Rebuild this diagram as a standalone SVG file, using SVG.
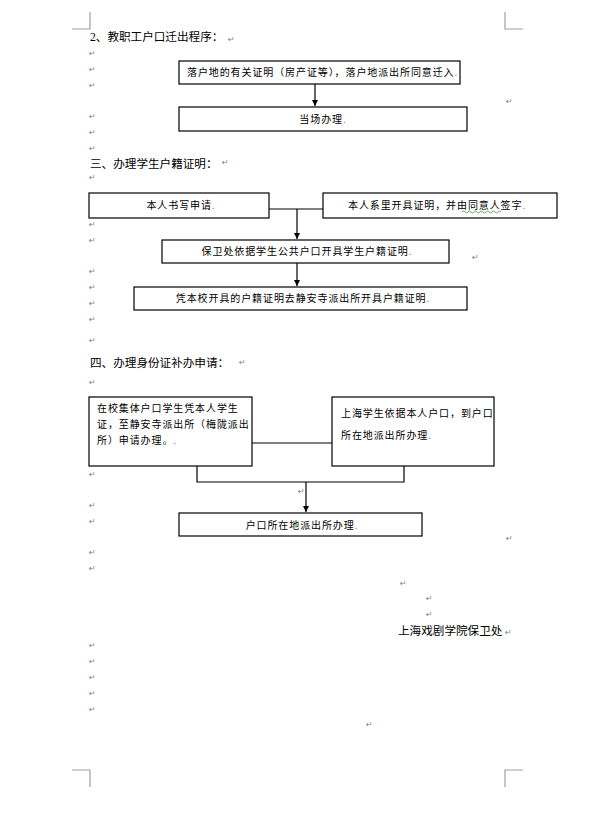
<svg xmlns="http://www.w3.org/2000/svg" width="595" height="820" viewBox="0 0 595 820">
<style>
.bg{fill:#ffffff}
.box{fill:#ffffff;stroke:#000000;stroke-width:1.2}
.ln{fill:none;stroke:#000000;stroke-width:1.2}
.crn{fill:none;stroke:#a0a0a0;stroke-width:1.2}
.h{font-family:"Noto Sans CJK SC","Liberation Sans",sans-serif;font-size:11.6px;fill:#000}
.t{font-family:"Noto Sans CJK SC","Liberation Sans",sans-serif;font-size:10px;fill:#000;letter-spacing:0.9px}
.tc{text-anchor:middle}
.r{font-family:"DejaVu Sans",sans-serif;font-size:8px;fill:#808080}
.m{fill:#808080}
</style>
<defs>
<marker id="ah" markerWidth="8" markerHeight="8" refX="6" refY="3" orient="auto" markerUnits="userSpaceOnUse">
<path d="M0,0 L6,3 L0,6 Z" fill="#000"/>
</marker>
</defs>
<rect class="bg" x="0" y="0" width="595" height="820"/>

<g id="corners">
<path class="crn" d="M90,12 V29 H72"/>
<path class="crn" d="M505,12 V29 H523"/>
<path class="crn" d="M72,770 H90 V787"/>
<path class="crn" d="M523,770 H505 V787"/>
</g>

<g id="headings">
<text class="h" x="90" y="41"><tspan font-family="Liberation Serif">2</tspan>、教职工户口迁出程序：</text>
<text class="h" x="90" y="168">三、办理学生户籍证明：</text>
<text class="h" x="90" y="367">四、办理身份证补办申请：</text>
<text class="h" x="398" y="635">上海戏剧学院保卫处</text>
</g>

<g id="connectors">
<line class="ln" x1="315" y1="84" x2="315" y2="106" marker-end="url(#ah)"/>
<path class="ln" d="M269,209 H323"/>
<line class="ln" x1="297" y1="209" x2="297" y2="239" marker-end="url(#ah)"/>
<line class="ln" x1="297" y1="263" x2="297" y2="286" marker-end="url(#ah)"/>
<path class="ln" d="M252,443 H332"/>
<path class="ln" d="M197,466 V482 H404 V466"/>
<line class="ln" x1="306" y1="482" x2="306" y2="512" marker-end="url(#ah)"/>
</g>

<g id="n1">
<rect class="box" x="179" y="61" width="281" height="23"/>
<text class="t" x="187" y="76">落户地的有关证明（房产证等），落户地派出所同意迁入<tspan class="m">.</tspan></text>
</g>
<g id="n2">
<rect class="box" x="179" y="107" width="288" height="24"/>
<text class="t tc" x="323" y="123">当场办理<tspan class="m">.</tspan></text>
</g>
<g id="n3">
<rect class="box" x="89" y="193" width="180" height="25"/>
<text class="t tc" x="181" y="209">本人书写申请<tspan class="m">.</tspan></text>
</g>
<g id="n4">
<rect class="box" x="323" y="193" width="234" height="25"/>
<text class="t" x="348" y="209">本人系里开具证明，并由同意人签字<tspan class="m">.</tspan></text>
<path d="M462,212 q1.5,-2 3,0 t3,0 t3,0 t3,0 t3,0 t3,0 t3,0 t3,0 t3,0 t3,0 t3,0 t3,0 t3,0" fill="none" stroke="#3a9a3a" stroke-width="0.8"/>
</g>
<g id="n5">
<rect class="box" x="162" y="240" width="287" height="23"/>
<text class="t tc" x="307" y="255">保卫处依据学生公共户口开具学生户籍证明<tspan class="m">.</tspan></text>
</g>
<g id="n6">
<rect class="box" x="134" y="287" width="333" height="23"/>
<text class="t tc" x="303" y="302">凭本校开具的户籍证明去静安寺派出所开具户籍证明<tspan class="m">.</tspan></text>
</g>
<g id="n7">
<rect class="box" x="89" y="397" width="163" height="69"/>
<text class="t" x="97" y="412">在校集体户口学生凭本人学生</text>
<text class="t" x="97" y="428">证，至静安寺派出所（梅陇派出</text>
<text class="t" x="97" y="444">所）申请办理。<tspan class="m">.</tspan></text>
</g>
<g id="n8">
<rect class="box" x="332" y="397" width="162" height="69"/>
<text class="t" x="341" y="417">上海学生依据本人户口，到户口</text>
<text class="t" x="341" y="439">所在地派出所办理<tspan class="m">.</tspan></text>
</g>
<g id="n9">
<rect class="box" x="179" y="513" width="243" height="23"/>
<text class="t tc" x="302" y="529">户口所在地派出所办理<tspan class="m">.</tspan></text>
</g>

<g id="marks">
<text class="r" x="228" y="42">↵</text>
<text class="r" x="89" y="56">↵</text>
<text class="r" x="89" y="72">↵</text>
<text class="r" x="89" y="88">↵</text>
<text class="r" x="506" y="104">↵</text>
<text class="r" x="89" y="119">↵</text>
<text class="r" x="89" y="135">↵</text>
<text class="r" x="89" y="151">↵</text>
<text class="r" x="222" y="165">↵</text>
<text class="r" x="89" y="180">↵</text>
<text class="r" x="89" y="227">↵</text>
<text class="r" x="89" y="243">↵</text>
<text class="r" x="472" y="260">↵</text>
<text class="r" x="89" y="274">↵</text>
<text class="r" x="89" y="290">↵</text>
<text class="r" x="89" y="306">↵</text>
<text class="r" x="89" y="322">↵</text>
<text class="r" x="89" y="343">↵</text>
<text class="r" x="239" y="365">↵</text>
<text class="r" x="89" y="385">↵</text>
<text class="r" x="89" y="477">↵</text>
<text class="r" x="298" y="494">↵</text>
<text class="r" x="89" y="508">↵</text>
<text class="r" x="89" y="524">↵</text>
<text class="r" x="506" y="541">↵</text>
<text class="r" x="89" y="555">↵</text>
<text class="r" x="89" y="571">↵</text>
<text class="r" x="400" y="586">↵</text>
<text class="r" x="426" y="601">↵</text>
<text class="r" x="426" y="617">↵</text>
<text class="r" x="505" y="635">↵</text>
<text class="r" x="89" y="648">↵</text>
<text class="r" x="89" y="664">↵</text>
<text class="r" x="89" y="680">↵</text>
<text class="r" x="89" y="696">↵</text>
<text class="r" x="89" y="712">↵</text>
<text class="r" x="366" y="727">↵</text>
</g>
</svg>
